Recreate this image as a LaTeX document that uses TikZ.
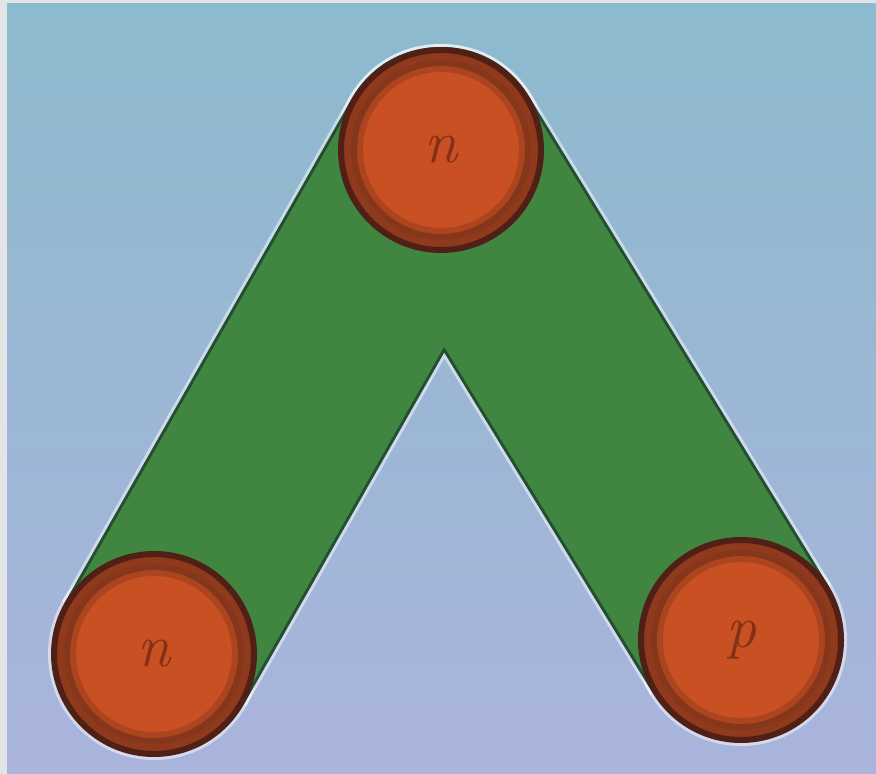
\documentclass[tikz,border=0pt]{standalone}
\begin{document}
\begin{tikzpicture}[x=0.5pt,y=-0.5pt]
\definecolor{frame}{RGB}{226,228,230}
\definecolor{bgtop}{RGB}{140,186,206}
\definecolor{bgbot}{RGB}{170,180,220}
\definecolor{barg}{RGB}{64,134,64}
\definecolor{bardark}{RGB}{36,78,50}
\definecolor{ballc}{RGB}{200,80,34}
\definecolor{rimc}{RGB}{80,32,22}
\definecolor{rimsoft}{RGB}{120,50,26}
\definecolor{letterc}{RGB}{130,48,22}
\tikzset{
  ball/.style={circle, inner sep=0pt, minimum size=100pt, fill=ballc,
    draw=rimc, line width=3pt,
    font=\fontsize{30}{32}\selectfont\itshape, text=letterc,
    path picture={
      \draw[line width=12pt, draw=rimsoft, opacity=0.7]
        (path picture bounding box.center) circle (48pt);
      \draw[line width=6pt, draw=rimsoft, opacity=0.35]
        (path picture bounding box.center) circle (42pt);}},
  halo/.style={draw=white, opacity=0.5, line width=106pt, line join=round, line cap=butt},
  barouter/.style={draw=bardark, line width=103pt, line join=round, line cap=butt},
  barinner/.style={draw=barg, line width=100pt, line join=round, line cap=butt}
}
% background
\fill[frame] (0,0) rectangle (876,774);
\shade[top color=bgtop, bottom color=bgbot] (7,4) rectangle (876,774);
\useasboundingbox (0,0) rectangle (876,774);
% centres
\coordinate (ct) at (441,150);
\coordinate (cl) at (154,654);
\coordinate (cr) at (741,640);
% halo
\draw[halo] (cl) -- (ct) -- (cr);
\fill[white, opacity=0.5] (ct) circle (53pt);
\fill[white, opacity=0.5] (cl) circle (53pt);
\fill[white, opacity=0.5] (cr) circle (53pt);
% bars
\draw[barouter] (cl) -- (ct) -- (cr);
\draw[barinner] (cl) -- (ct) -- (cr);
% balls
\node[ball] (t) at (ct) {n};
\node[ball] (l) at (cl) {n};
\node[ball] (r) at (cr) {p};
\end{tikzpicture}
\end{document}
